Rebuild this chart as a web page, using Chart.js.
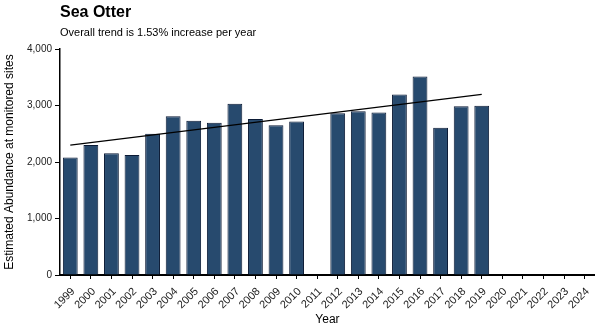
<!DOCTYPE html>
<html>
<head>
<meta charset="utf-8">
<script src="https://cdn.jsdelivr.net/npm/chart.js@4"></script>
<style>
  html, body { margin: 0; padding: 0; background: #fff; }
  #wrap { position: relative; width: 600px; height: 333px; }
  canvas { position: absolute; left: 0; top: 0; }
  .t { position: absolute; font-family: "Liberation Sans", Arial, sans-serif; color: #000; white-space: nowrap; }
  #title { left: 60px; top: 3px; font-size: 16px; font-weight: bold; }
  #sub { left: 60px; top: 26px; font-size: 11px; }
</style>
</head>
<body>
<div id="wrap">
  <canvas id="c" width="600" height="333"></canvas>
  <div class="t" id="title">Sea Otter</div>
  <div class="t" id="sub">Overall trend is 1.53% increase per year</div>
</div>
<script>
const years = ["1999","2000","2001","2002","2003","2004","2005","2006","2007","2008","2009","2010","2011","2012","2013","2014","2015","2016","2017","2018","2019","2020","2021","2022","2023","2024"];
const abundance = [2080, 2300, 2155, 2125, 2500, 2810, 2730, 2695, 3030, 2760, 2650, 2715, null, 2865, 2900, 2875, 3195, 3515, 2605, 2985, 2995, null, null, null, null, null];
const trend = [2297, null, null, null, null, null, null, null, null, null, null, null, null, null, null, null, null, null, null, null, 3197, null, null, null, null, null];
const yTicks = [0, 1000, 2000, 3000, 4000];

const font = "'Liberation Sans', Arial, sans-serif";

new Chart(document.getElementById('c'), {
  data: {
    labels: years,
    datasets: [
      {
        type: 'line',
        data: trend,
        borderColor: '#000',
        borderWidth: 1.2,
        pointRadius: 0,
        spanGaps: true,
        fill: false,
        order: 0
      },
      {
        type: 'bar',
        data: abundance,
        backgroundColor: '#274a6e',
        borderColor: '#0b1a35',
        borderWidth: 1,
        barPercentage: 0.72,
        categoryPercentage: 1.0,
        order: 1
      }
    ]
  },
  options: {
    responsive: false,
    animation: false,
    devicePixelRatio: 1,
    layout: { padding: { top: 49, right: 4, left: 0, bottom: 0 } },
    plugins: { legend: { display: false }, tooltip: { enabled: false }, title: { display: false } },
    scales: {
      x: {
        type: 'category',
        offset: true,
        afterFit: s => { s.height = 58; },
        grid: { display: true, drawOnChartArea: false, drawTicks: true, tickLength: 4, color: '#000', offset: false },
        border: { display: true, color: '#000', width: 2 },
        ticks: { minRotation: 45, maxRotation: 45, autoSkip: false, padding: 6, labelOffset: 3, color: '#222', font: { family: font, size: 11 } },
        title: { display: true, text: 'Year', color: '#000', font: { family: font, size: 12 }, padding: { top: 0, bottom: 6 } }
      },
      y: {
        min: 0, max: 4000,
        afterFit: s => { s.width = 60; },
        afterBuildTicks: s => { s.ticks = yTicks.map(v => ({ value: v })); },
        grid: { display: true, drawOnChartArea: false, drawTicks: true, tickLength: 5, color: '#000' },
        border: { display: true, color: '#000', width: 1.5 },
        ticks: { padding: 3, color: '#222', font: { family: font, size: 10 } },
        title: { display: true, text: 'Estimated Abundance at monitored sites', color: '#000', font: { family: font, size: 12 }, padding: { top: 2, bottom: 0 } }
      }
    }
  }
});
</script>
</body>
</html>
